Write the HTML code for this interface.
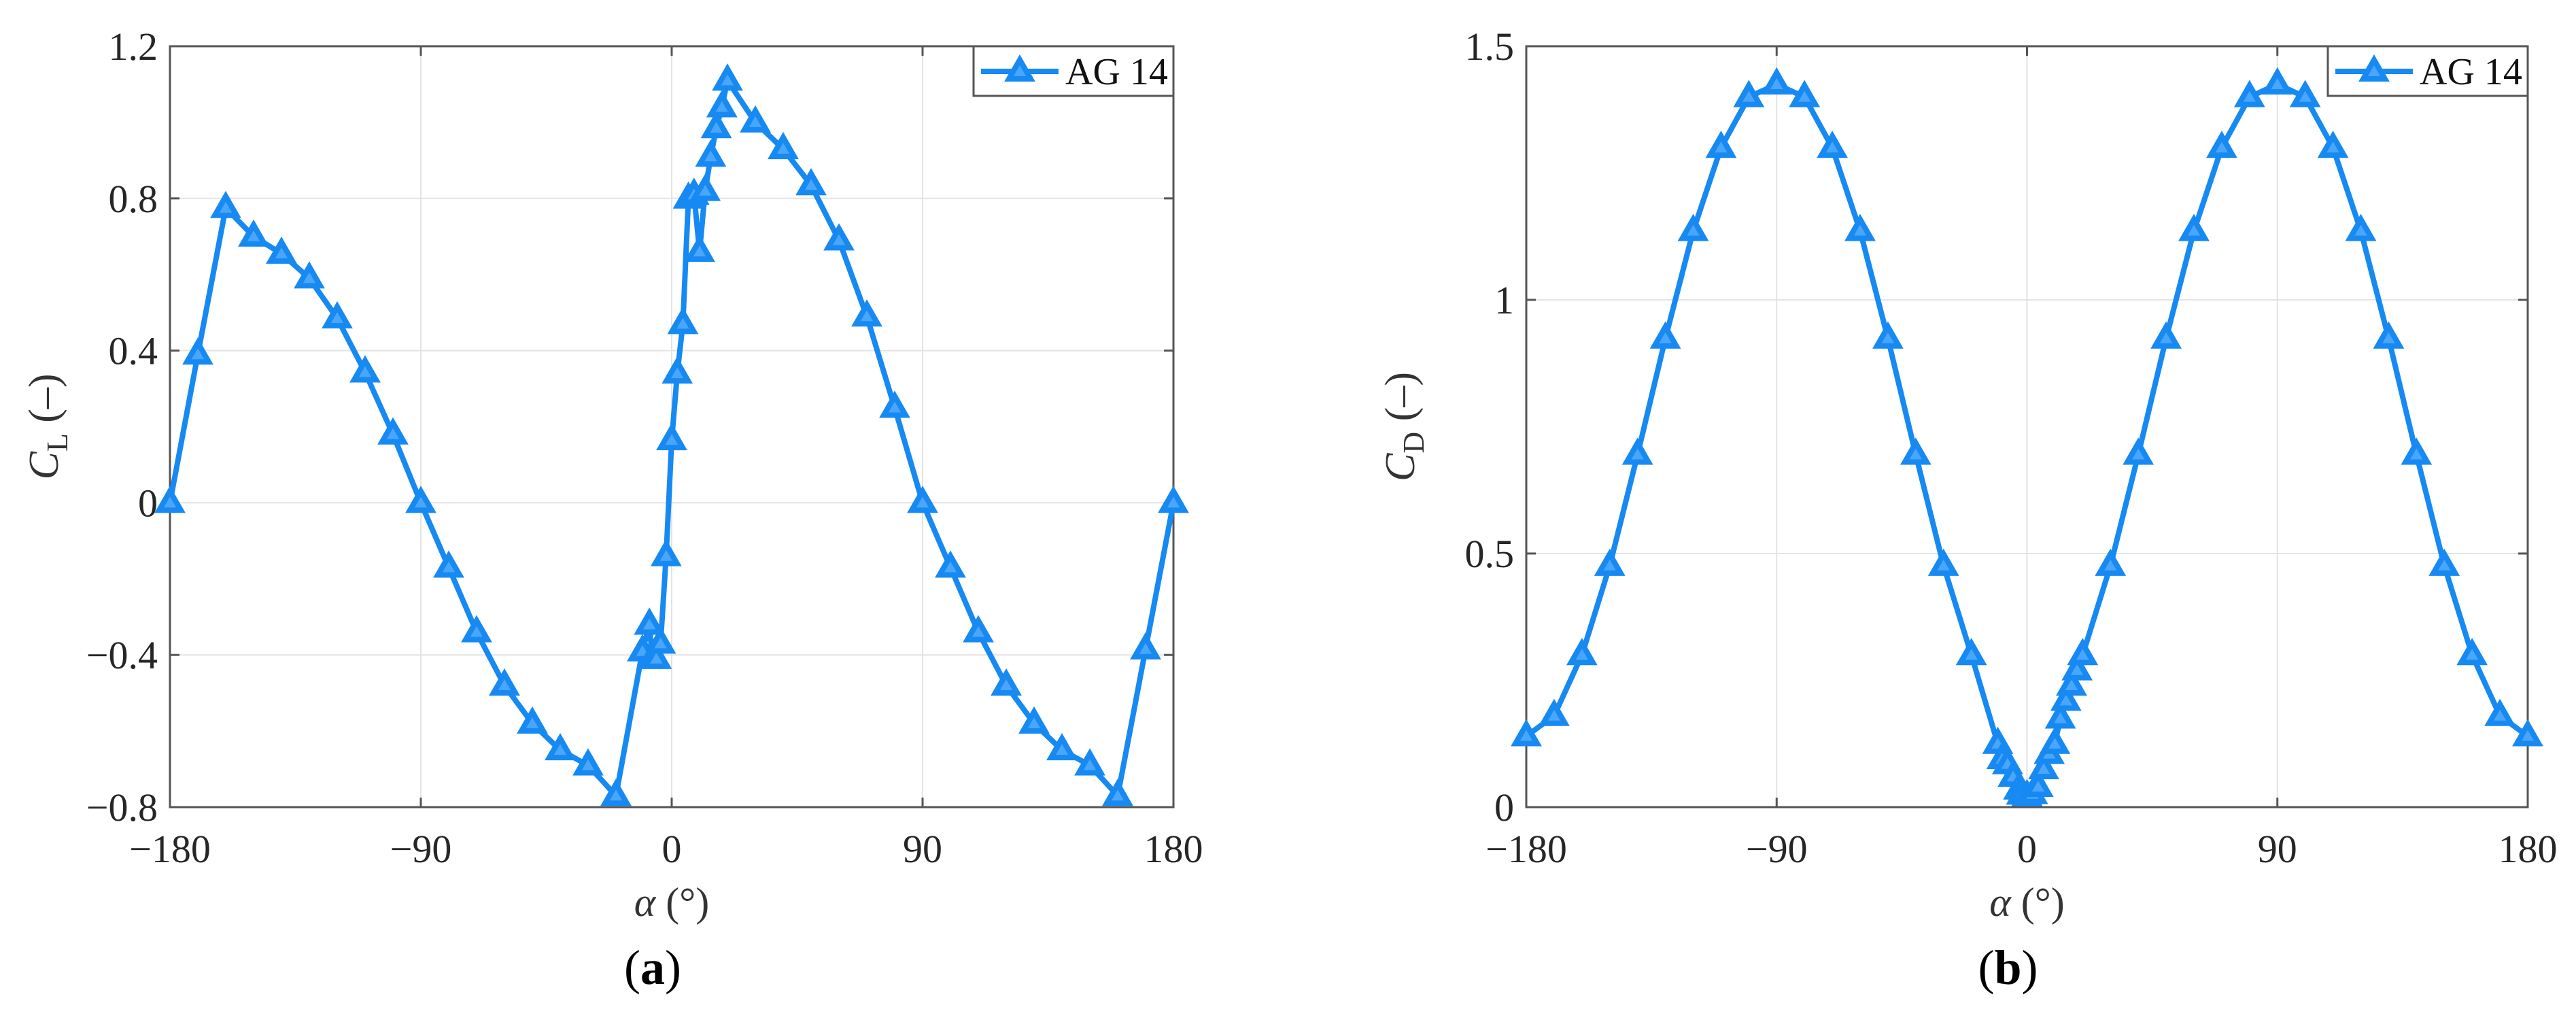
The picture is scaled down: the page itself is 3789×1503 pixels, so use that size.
<!DOCTYPE html>
<html><head><meta charset="utf-8"><style>
html,body{margin:0;padding:0;background:#fff;}
svg{display:block;font-family:"Liberation Serif",serif;}
</style></head><body>
<svg id="fig" width="3789" height="1503" viewBox="0 0 3789 1503" xmlns="http://www.w3.org/2000/svg"></svg>
<script>
const alphaL = [-180,-170,-160,-150,-140,-130,-120,-110,-100,-90,-80,-70,-60,-50,-40,-30,-20,-10.5,-8,-7,-5.5,-4,-2,0,2,4,6,8,10,12,14,16,18,20,30,40,50,60,70,80,90,100,110,120,130,140,150,160,170,180];
const clValues = [0,0.39,0.775,0.70,0.655,0.59,0.485,0.343,0.18,0,-0.17,-0.34,-0.48,-0.58,-0.65,-0.69,-0.77,-0.39,-0.32,-0.41,-0.41,-0.37,-0.14,0.165,0.34,0.47,0.80,0.81,0.66,0.82,0.91,0.985,1.04,1.11,1.0,0.93,0.835,0.69,0.49,0.25,0,-0.17,-0.34,-0.48,-0.58,-0.65,-0.69,-0.77,-0.385,0];
const alphaD = [-180,-170,-160,-150,-140,-130,-120,-110,-100,-90,-80,-70,-60,-50,-40,-30,-20,-10.5,-9,-7,-5,-3,-2,0,2,4,6,8,10,12,14,16,18,20,30,40,50,60,70,80,90,100,110,120,130,140,150,160,170,180];
const cdValues = [0.14,0.18,0.30,0.476,0.695,0.924,1.136,1.30,1.40,1.425,1.40,1.30,1.136,0.924,0.695,0.476,0.30,0.125,0.095,0.085,0.06,0.035,0.025,0.022,0.026,0.04,0.075,0.105,0.125,0.175,0.21,0.24,0.27,0.30,0.476,0.695,0.924,1.136,1.30,1.40,1.425,1.40,1.30,1.136,0.924,0.695,0.476,0.30,0.18,0.14];
const xTicks = [-180,-90,0,90,180];
const xTickLabels = ["\u2212180","\u221290","0","90","180"];
const clTicks = [-0.8,-0.4,0,0.4,0.8,1.2];
const clTickLabels = ["\u22120.8","\u22120.4","0","0.4","0.8","1.2"];
const cdTicks = [0,0.5,1,1.5];
const cdTickLabels = ["0","0.5","1","1.5"];

const NS="http://www.w3.org/2000/svg";
const svg=document.getElementById('fig');
const BLUE="#168af2";
const MFILL="#4aa6fa";
function mk(tag,attrs,parent){const e=document.createElementNS(NS,tag);for(const k in attrs)e.setAttribute(k,attrs[k]);(parent||svg).appendChild(e);return e;}

function panel(cfg){
  const g=mk('g',{});
  
  
  const L=cfg.x0,R=cfg.x1,T=68,B=1187;
  const sx=v=>L+(v-(-180))/360*(R-L);
  const sy=v=>B-(v-cfg.ymin)/(cfg.ymax-cfg.ymin)*(B-T);
  xTicks.forEach(t=>{const l=mk('line',{x1:sx(t),x2:sx(t),y1:T,y2:B,stroke:'#e3e3e3','stroke-width':2},g);
    });
  cfg.ticks.forEach(t=>{const l=mk('line',{x1:L,x2:R,y1:sy(t),y2:sy(t),stroke:'#e3e3e3','stroke-width':2},g);
    });
  xTicks.forEach((t,i)=>{
    mk('line',{x1:sx(t),x2:sx(t),y1:B,y2:B-14,stroke:'#555','stroke-width':3},g);
    mk('line',{x1:sx(t),x2:sx(t),y1:T,y2:T+14,stroke:'#555','stroke-width':3},g);
    const tx=mk('text',{x:sx(t),y:1268,'text-anchor':'middle','font-size':58,fill:'#262626'},g);
    tx.textContent=xTickLabels[i];
    
  });
  cfg.ticks.forEach((t,i)=>{
    mk('line',{x1:L,x2:L+14,y1:sy(t),y2:sy(t),stroke:'#555','stroke-width':3},g);
    mk('line',{x1:R,x2:R-14,y1:sy(t),y2:sy(t),stroke:'#555','stroke-width':3},g);
    const tx=mk('text',{x:L-18,y:sy(t)+20,'text-anchor':'end','font-size':58,fill:'#262626'},g);
    tx.textContent=cfg.tickLabels[i];
    
  });
  const fr=mk('rect',{x:L,y:T,width:R-L,height:B-T,fill:'none',stroke:'#555','stroke-width':3},g);
  
  const pts=cfg.xs.map((a,i)=>sx(a)+','+sy(cfg.ys[i])).join(' ');
  const pl=mk('polyline',{points:pts,fill:'none',stroke:BLUE,'stroke-width':8,'stroke-linejoin':'round'},g);
  
  cfg.xs.forEach((a,i)=>{
    const x=sx(a),y=sy(cfg.ys[i]);
    const m=mk('polygon',{points:`${x},${y-17} ${x-16},${y+11} ${x+16},${y+11}`,fill:MFILL,stroke:BLUE,'stroke-width':8,'stroke-linejoin':'miter'},g);
    
  });
  const lg=mk('g',{},g);
  
  mk('rect',{x:R-294,y:T,width:294,height:73,fill:'#fff',stroke:'#555','stroke-width':3},lg);
  mk('line',{x1:R-283,x2:R-169,y1:T+37,y2:T+37,stroke:BLUE,'stroke-width':8},lg);
  const lx=R-226;
  mk('polygon',{points:`${lx},${T+20} ${lx-16},${T+48} ${lx+16},${T+48}`,fill:MFILL,stroke:BLUE,'stroke-width':8},lg);
  const lt=mk('text',{x:R-159,y:T+56,'font-size':56,fill:'#111'},lg);
  lt.textContent='AG 14';
  
  const xl=mk('text',{x:(L+R)/2,y:1347,'text-anchor':'middle','font-size':60,fill:'#333'},g);
  xl.innerHTML='<tspan font-style="italic">α</tspan> (°)';
  
  const yl=mk('text',{x:0,y:0,'text-anchor':'middle','font-size':62,fill:'#333',transform:`translate(${L-165},${(T+B)/2}) rotate(-90)`},g);
  yl.innerHTML='<tspan font-style="italic">C</tspan><tspan font-size="44" dy="14">'+cfg.sub+'</tspan><tspan dy="-14"> (–)</tspan>';
  
  const cp=mk('text',{x:(L+R)/2-28,y:1447,'text-anchor':'middle','font-size':72,fill:'#000'},g);
  cp.innerHTML='(<tspan font-weight="bold">'+cfg.cap+'</tspan>)';
  
}
panel({name:'lift-coefficient-chart',x0:250,x1:1726,ymin:-0.8,ymax:1.2,ticks:clTicks,tickLabels:clTickLabels,xs:alphaL,ys:clValues,sub:'L',cap:'a'});
panel({name:'drag-coefficient-chart',x0:2245,x1:3718,ymin:0,ymax:1.5,ticks:cdTicks,tickLabels:cdTickLabels,xs:alphaD,ys:cdValues,sub:'D',cap:'b'});
</script>
</body></html>
